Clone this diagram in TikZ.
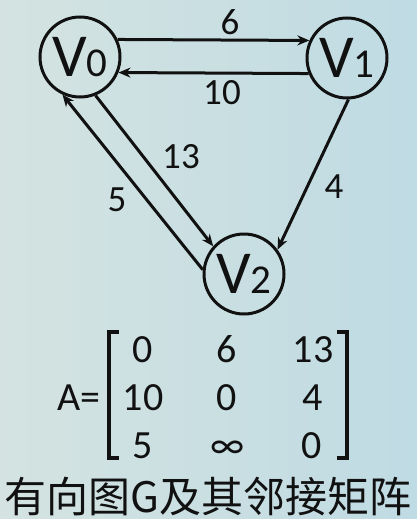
\documentclass[tikz,border=0pt]{standalone}
\usepackage{fontspec}
\setmainfont{Carlito}
\newfontfamily\cjkfont{Noto Sans CJK SC}
\usetikzlibrary{arrows.meta}
\definecolor{bgLeft}{HTML}{D4E3E1}
\definecolor{bgRight}{HTML}{BFDBE3}
\definecolor{inkBlk}{HTML}{111111}
\tikzset{
  vtx/.style  = {circle, draw=inkBlk, line width=3pt, minimum size=80pt,
                 inner sep=0pt, text=inkBlk},
  arc/.style  = {draw=inkBlk, line width=3pt,
                 -{Stealth[length=12pt, width=10pt]}},
  wlab/.style = {font=\fontsize{37}{37}\selectfont, text=inkBlk, inner sep=0pt},
  cell/.style = {font=\fontsize{40}{40}\selectfont, text=inkBlk, inner sep=0pt,
                 anchor=base},
  brk/.style  = {draw=inkBlk, line width=3.4pt},
}
\newcommand{\vname}[1]{{\fontsize{61}{61}\selectfont V}{\fontsize{41}{41}\selectfont #1}}

\begin{document}
\begin{tikzpicture}[x=1pt, y=-1pt]
    \shade[left color=bgLeft, right color=bgRight] (0,0) rectangle (417,519);
    \useasboundingbox (0,0) rectangle (417,519);
    % vertices
    \node[vtx] (v0) at (80,57)   {\vname{0}};
    \node[vtx] (v1) at (347,58)  {\vname{1}};
    \node[vtx] (v2) at (244,274) {\vname{2}};
    % arcs
    \draw[arc] (v0.25)  -- (v1.155);
    \draw[arc] (v1.202) -- (v0.-22);
    \draw[arc] (v0.-68) -- (v2.138);
    \draw[arc] (v2.174) -- (v0.-115);
    \draw[arc] (v1.-88) -- (v2.36);
    \node[wlab] (w6)  at (230,22)  {6};
    \node[wlab] (w10) at (222,93)  {10};
    \node[wlab] (w13) at (181,157) {13};
    \node[wlab] (w5)  at (117,200) {5};
    \node[wlab] (w4)  at (334,187) {4};
    % adjacency matrix
    \node[cell] (aeq) at (79,410) {A=};
    \foreach \nm/\xx/\yy/\v in {a11/143/362/0, a12/227/362/6, a13/313/362/13,
                                a21/143/410/10, a22/227/410/0, a23/313/410/4,
                                a31/143/458/5, a32/228/458/∞, a33/312/458/0}{%
      \node[cell] (\nm) at (\xx,\yy) {\v};}
    \draw[brk] (119,332) -- (109,332) -- (109,458) -- (119,458);
    \draw[brk] (337,332) -- (347,332) -- (347,458) -- (337,458);
    \node[font=\cjkfont\fontsize{42}{42}\selectfont, text=inkBlk, inner sep=0pt]
      (cap) at (208,497) {有向图G及其邻接矩阵};
  \end{tikzpicture}
\end{document}
